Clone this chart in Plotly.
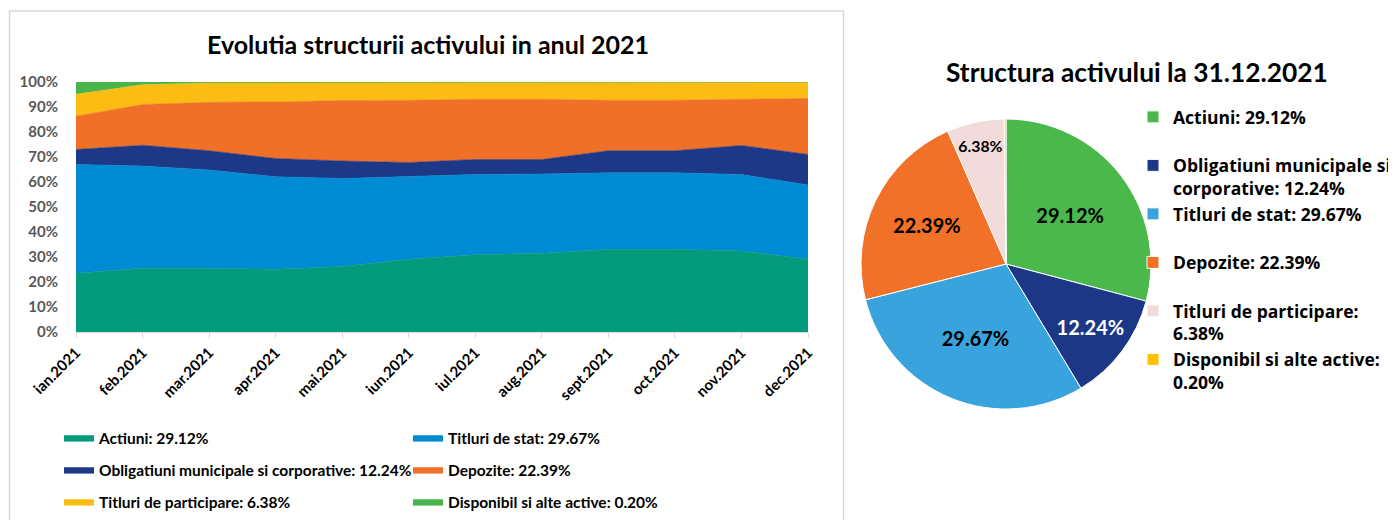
import plotly.graph_objects as go

months = ["ian.2021", "feb.2021", "mar.2021", "apr.2021", "mai.2021", "iun.2021",
          "iul.2021", "aug.2021", "sept.2021", "oct.2021", "nov.2021", "dec.2021"]

actiuni = [23.5, 25.5, 25.5, 25.1, 26.2, 29.1, 30.9, 31.5, 33.1, 33.1, 32.4, 29.12]
titluri_stat = [43.5, 40.9, 39.3, 37.0, 35.2, 33.0, 32.1, 31.7, 30.6, 30.6, 30.6, 29.67]
obligatiuni = [6.0, 8.3, 7.7, 7.3, 7.0, 5.7, 6.0, 5.8, 8.8, 8.8, 11.6, 12.24]
depozite = [13.3, 16.3, 19.4, 22.6, 24.2, 24.9, 24.1, 24.1, 20.2, 20.2, 18.5, 22.39]
titluri_part = [8.8, 7.9, 7.7, 7.7, 7.1, 7.0, 6.6, 6.6, 7.0, 7.0, 6.6, 6.38]
disponibil = [4.9, 1.1, 0.4, 0.3, 0.3, 0.3, 0.3, 0.3, 0.3, 0.3, 0.3, 0.20]

pie_labels = ["Actiuni: 29.12%<br> ",
              "Obligatiuni municipale si<br>corporative: 12.24%",
              "Titluri de stat: 29.67%<br> ",
              "Depozite: 22.39%<br> ",
              "Titluri de participare:<br>6.38%",
              "Disponibil si alte active:<br>0.20%"]
pie_values = [29.12, 12.24, 29.67, 22.39, 6.38, 0.20]

# page body has an 8px margin: figure is drawn from screen (8, 8)
OFF = 8
FW, FH = 1396 - OFF, 520 - OFF
FONT = "Lato"


def px(x):
    return (x - OFF) / FW


def py(y):
    return 1 - (y - OFF) / FH


area_series = [
    ("Actiuni", actiuni, "#039B7C", "legend"),
    ("Titluri de stat", titluri_stat, "#008BD4", "legend"),
    ("Obligatiuni municipale si corporative", obligatiuni, "#1C3887", "legend3"),
    ("Depozite", depozite, "#F07027", "legend3"),
    ("Titluri de participare", titluri_part, "#FBBD14", "legend4"),
    ("Disponibil si alte active", disponibil, "#47B54A", "legend4"),
]

fig = go.Figure()
for name, vals, col, lg in area_series:
    fig.add_trace(go.Scatter(
        x=months, y=vals, name=f"{name}: {vals[-1]:.2f}%",
        mode="lines", stackgroup="one", groupnorm="percent",
        line=dict(width=0.6, color=col), fillcolor=col, legend=lg,
    ))

R = 145
CX, CY = 1006, 264
pie_colors = ["#4AB84B", "#1D3787", "#38A3DC", "#F07127", "#F2DCDB", "#FFC000"]
fig.add_trace(go.Pie(
    labels=pie_labels, values=pie_values, sort=False, direction="clockwise",
    rotation=0, texttemplate="%{value:.2f}%",
    textposition=["inside"] * 5 + ["none"],
    insidetextorientation="horizontal",
    textfont=dict(family=FONT, size=20, weight="bold",
                  color=["#000000", "#FFFFFF", "#000000", "#000000", "#000000", "#000000"]),
    marker=dict(colors=pie_colors, line=dict(color="#FFFFFF", width=1)),
    domain=dict(x=[px(CX - R), px(CX + R)], y=[py(CY + R), py(CY - R)]),
    legend="legend2",
))

leg_common = dict(orientation="h", xanchor="left", yanchor="middle",
                  font=dict(family=FONT, size=15.5, color="#000000", weight="bold"),
                  entrywidth=304, traceorder="normal", itemwidth=30,
                  bgcolor="rgba(0,0,0,0)")

fig.update_layout(
    width=FW, height=FH, margin=dict(l=0, r=0, t=0, b=0, autoexpand=False),
    paper_bgcolor="#FFFFFF", plot_bgcolor="#FFFFFF",
    font=dict(family=FONT),
    xaxis=dict(domain=[px(76), px(808)], type="category", range=[0, 11],
               showgrid=False, showline=True, linecolor="#D9D9D9", linewidth=1,
               ticks="outside", ticklen=5, tickcolor="#D9D9D9", tickangle=-45,
               tickfont=dict(family=FONT, size=15, color="#000000", weight="bold"),
               anchor="y", fixedrange=True),
    yaxis=dict(domain=[py(332), py(82)], range=[0, 100], dtick=10,
               ticksuffix="%", showgrid=False, zeroline=False, showline=False,
               tickfont=dict(family=FONT, size=15, color="#595959", weight="bold"),
               ticklabelstandoff=17, anchor="x", fixedrange=True),
    legend=dict(x=px(59), y=py(438), **leg_common),
    legend3=dict(x=px(59), y=py(470), **leg_common),
    legend4=dict(x=px(59), y=py(502), **leg_common),
    legend2=dict(orientation="v", x=px(1133), y=py(99), xanchor="left",
                 yanchor="top", valign="top",
                 font=dict(family="Open Sans", size=17.5, color="#000000", weight="bold"),
                 bgcolor="rgba(0,0,0,0)"),
    showlegend=True,
    annotations=[
        dict(text="Evolutia structurii activului in anul 2021", x=px(428), y=py(44),
             xref="paper", yref="paper", showarrow=False, xanchor="center", yanchor="middle",
             font=dict(family=FONT, size=25, color="#000000", weight="bold")),
        dict(text="Structura activului la 31.12.2021", x=px(1137), y=py(72),
             xref="paper", yref="paper", showarrow=False, xanchor="center", yanchor="middle",
             font=dict(family=FONT, size=26.3, color="#000000", weight="bold")),
    ],
    shapes=[dict(type="rect", xref="paper", yref="paper",
                 x0=px(9.5), x1=px(843.5), y0=-0.05, y1=py(11),
                 line=dict(color="#D9D9D9", width=1.5), fillcolor="rgba(0,0,0,0)",
                 layer="below")],
)

fig.write_html("out.html")
